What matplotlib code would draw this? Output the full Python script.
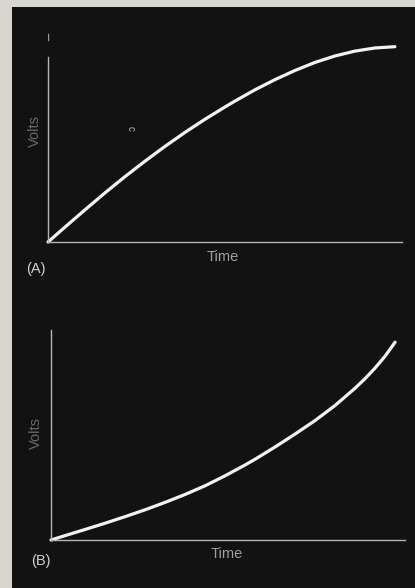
import matplotlib
matplotlib.use("Agg")
import matplotlib.pyplot as plt
from matplotlib.patches import Rectangle

# Panel A: voltage rising and levelling off (concave)
time_a = [0.0, 0.48, 1.05, 1.61, 2.18, 2.74, 3.31, 3.87, 4.44, 5.00, 5.28, 5.85,
          6.41, 6.98, 7.54, 8.11, 8.67, 9.24, 9.80]
volts_a = [0.0, 0.71, 1.54, 2.34, 3.12, 3.85, 4.56, 5.22, 5.85, 6.43, 6.71, 7.25,
           7.73, 8.17, 8.55, 8.86, 9.09, 9.24, 9.30]

# Panel B: voltage rising faster and faster (convex)
time_b = [0.0, 0.40, 0.96, 1.53, 2.09, 2.66, 3.22, 3.79, 4.35, 4.92, 5.48, 5.76,
          6.33, 6.89, 7.46, 8.02, 8.59, 8.87, 9.15, 9.44, 9.72]
volts_b = [0.0, 0.21, 0.50, 0.80, 1.11, 1.44, 1.79, 2.17, 2.58, 3.06, 3.57, 3.84,
           4.43, 5.04, 5.69, 6.40, 7.23, 7.68, 8.18, 8.76, 9.42]

panel_labels = ["(A)", "(B)"]
x_labels = ["Time", "Time"]
y_labels = ["Volts", "Volts"]

W, H = 415, 588
fig = plt.figure(figsize=(W / 100, H / 100), dpi=100)
fig.patch.set_facecolor("#d9d6cf")
fig.add_artist(Rectangle((12 / W, 0), 1 - 12 / W, 1 - 7 / H, transform=fig.transFigure,
                         facecolor="#121212", edgecolor="none", zorder=0))

def fx(px):
    return px / W

def fy(py):
    return 1 - py / H

def make_axes(left, right, bottom, top):
    ax = fig.add_axes([fx(left), fy(bottom), fx(right) - fx(left), fy(top) - fy(bottom)])
    ax.set_facecolor("none")
    ax.set_xlim(0, 10)
    ax.set_ylim(0, 10)
    for s in ["top", "right"]:
        ax.spines[s].set_visible(False)
    for s in ["left", "bottom"]:
        ax.spines[s].set_color("#b5b5b5")
        ax.spines[s].set_linewidth(1.0)
    ax.set_xticks([])
    ax.set_yticks([])
    return ax

font = ["Liberation Sans", "DejaVu Sans"]

# Panel A
ax_a = make_axes(48, 402, 242, 32)
ax_a.spines["left"].set_bounds(0, 8.8)
ax_a.axvline(0, ymin=0.96, ymax=0.99, color="#9a9a9a", lw=1.0)
ax_a.plot(time_a, volts_a, color="#f2f2f2", lw=2.3, solid_capstyle="round",
          solid_joinstyle="round", clip_on=False)

# Panel B
ax_b = make_axes(51, 405, 540, 330)
ax_b.plot(time_b, volts_b, color="#f2f2f2", lw=2.3, solid_capstyle="round",
          solid_joinstyle="round", clip_on=False)

# texts
fig.text(fx(35), fy(131), y_labels[0], rotation=90, color="#6a6a6a", fontsize=10.5,
         family=font, ha="center", va="center")
fig.text(fx(223), fy(257), x_labels[0], color="#a0a0a0", fontsize=10.5,
         family=font, ha="center", va="center")
fig.text(fx(36), fy(269), panel_labels[0], color="#d0d0d0", fontsize=10.5,
         family=font, ha="center", va="center")
fig.text(fx(131), fy(128), "c", rotation=270, color="#bdbdbd", fontsize=7,
         family=font, ha="center", va="center")

fig.text(fx(36), fy(433), y_labels[1], rotation=90, color="#6a6a6a", fontsize=10.5,
         family=font, ha="center", va="center")
fig.text(fx(227), fy(554), x_labels[1], color="#a0a0a0", fontsize=10.5,
         family=font, ha="center", va="center")
fig.text(fx(41), fy(561), panel_labels[1], color="#d0d0d0", fontsize=10.5,
         family=font, ha="center", va="center")

fig.savefig("out.png", dpi=100, facecolor=fig.get_facecolor())
